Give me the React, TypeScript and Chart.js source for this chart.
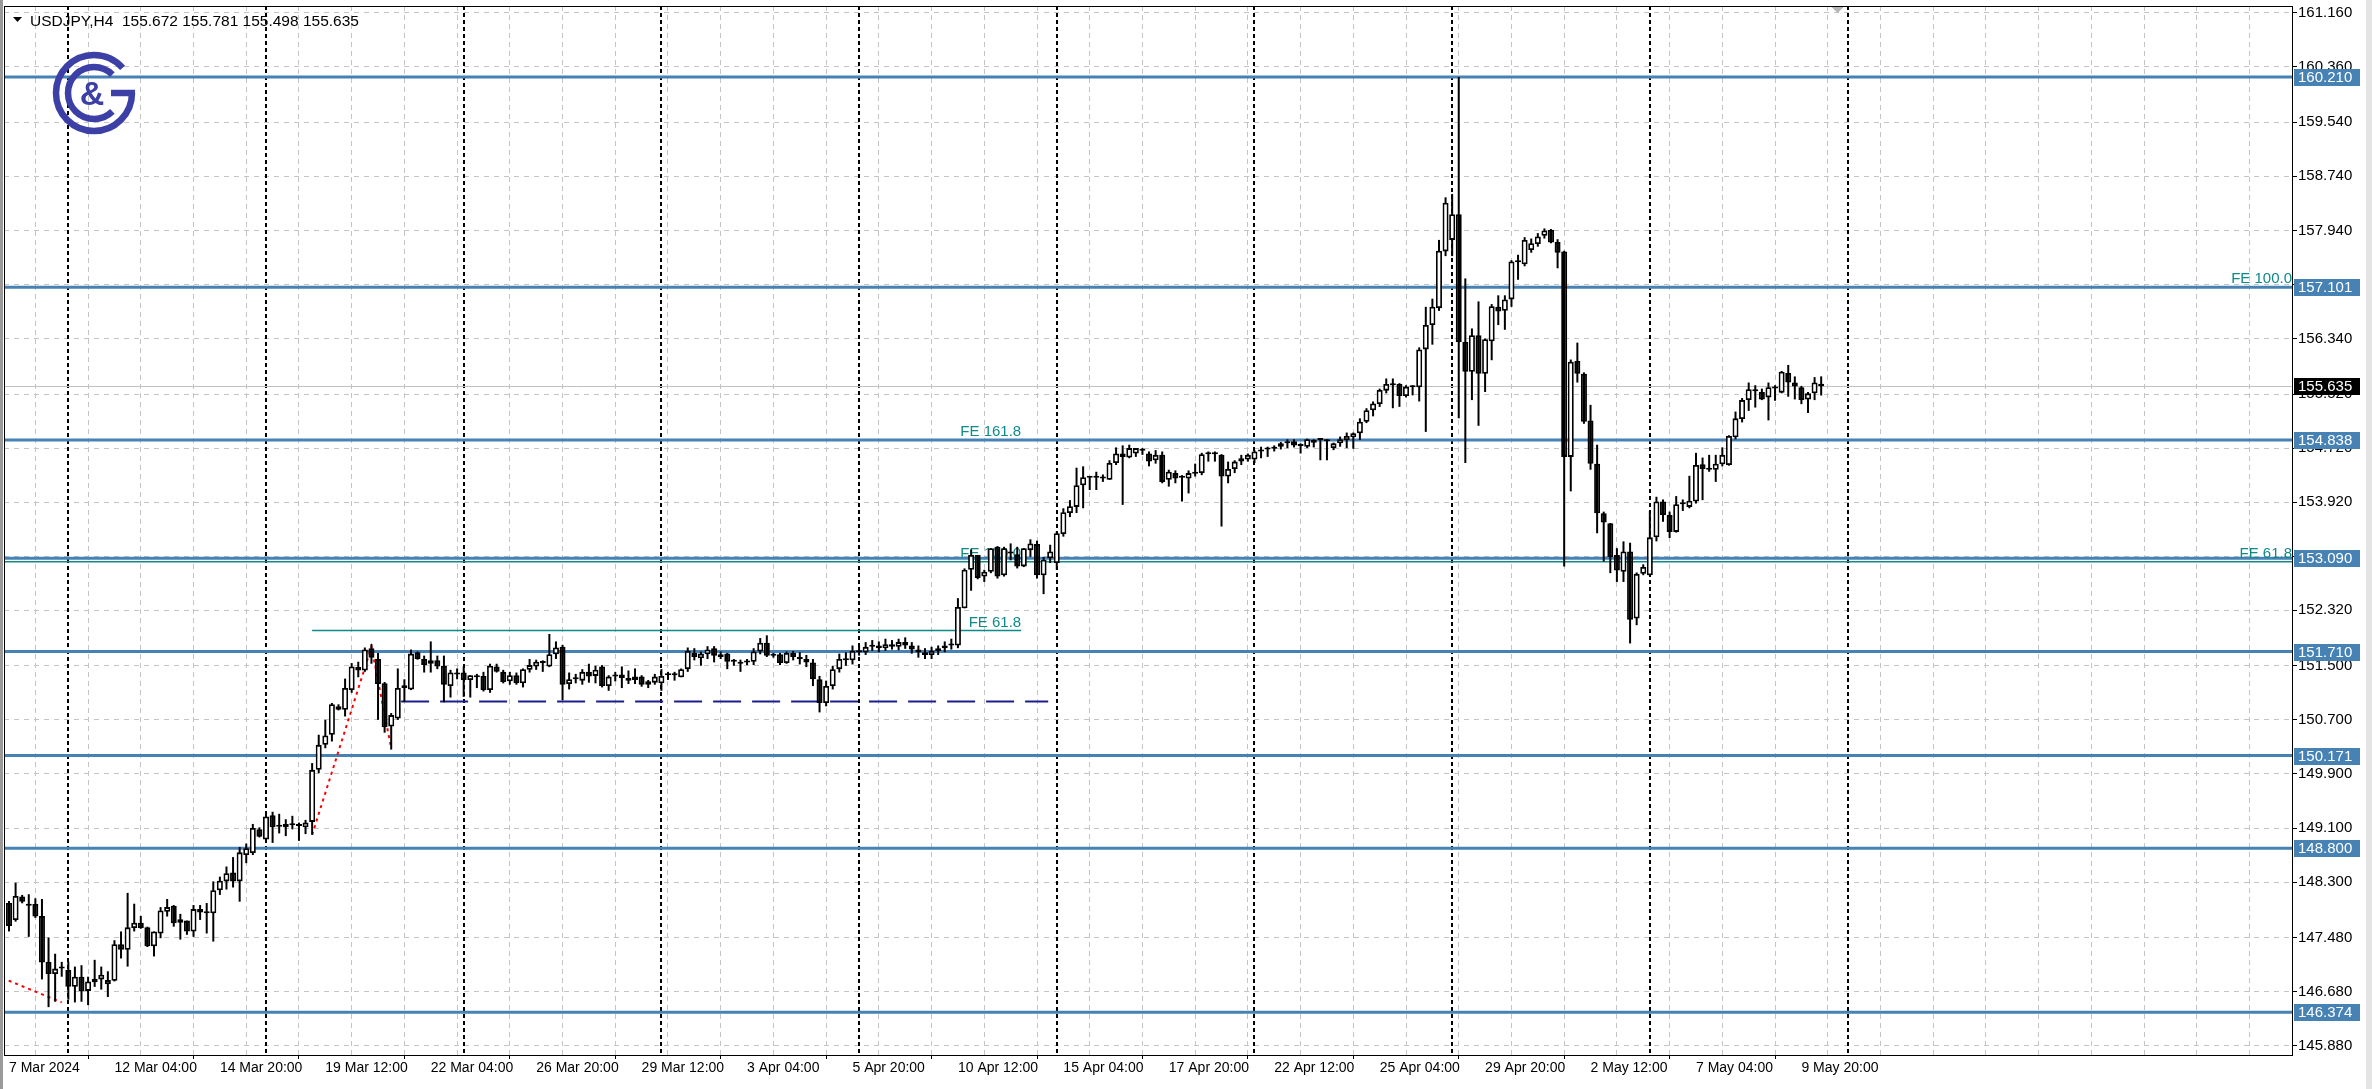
import React, { useEffect, useRef } from "react";
import { Chart, registerables } from "chart.js";

Chart.register(...registerables);

const W = 2372;
const H = 1089;
const FONT = '"Liberation Sans", Arial, sans-serif';

// ---- candle data (USDJPY H4), index 0 = first visible bar ----
const opens = [
  147.99, 147.74, 148.085, 147.97, 147.976, 147.8, 147.12, 146.94, 147.05, 146.998,
  146.75, 146.9, 146.69, 146.82, 146.86, 146.79, 146.84, 147.38, 147.3, 147.62,
  147.7, 147.63, 147.35, 147.54, 147.86, 147.95, 147.7, 147.73, 147.57, 147.9,
  147.85, 147.84, 148.18, 148.31, 148.44, 148.31, 148.7, 148.73, 149.08, 148.93,
  149.29, 149.14, 149.11, 149.15, 149.14, 149.11, 149.19, 149.96, 150.33, 150.48,
  150.9, 150.85, 151.14, 151.43, 151.43, 151.76, 151.6, 151.24, 150.6, 150.72,
  151.17, 151.15, 151.7, 151.6, 151.53, 151.58, 151.5, 151.2, 151.39, 151.4,
  151.29, 151.33, 151.35, 151.14, 151.49, 151.41, 151.27, 151.36, 151.24, 151.44,
  151.49, 151.56, 151.49, 151.67, 151.78, 151.23, 151.3, 151.28, 151.41, 151.35,
  151.49, 151.2, 151.34, 151.37, 151.32, 151.29, 151.34, 151.22, 151.25, 151.24,
  151.36, 151.36, 151.33, 151.45, 151.69, 151.61, 151.67, 151.76, 151.63, 151.68,
  151.57, 151.56, 151.55, 151.56, 151.71, 151.84, 151.66, 151.67, 151.54, 151.69,
  151.63, 151.6, 151.55, 151.3, 150.95, 151.2, 151.45, 151.6, 151.58, 151.72,
  151.7, 151.78, 151.8, 151.76, 151.82, 151.78, 151.85, 151.8, 151.74, 151.7,
  151.66, 151.72, 151.76, 151.8, 151.8, 152.35, 152.92, 153.14, 152.82, 152.89,
  153.26, 152.84, 153.16, 153.15, 152.97, 153.21, 153.3, 152.84, 153.09, 153.02,
  153.45, 153.76, 153.85, 154.17, 154.28, 154.29, 154.27, 154.25, 154.5, 154.64,
  154.58, 154.64, 154.69, 154.64, 154.54, 154.62, 154.25, 154.35, 154.28, 154.27,
  154.34, 154.35, 154.63, 154.63, 154.62, 154.3, 154.41, 154.52, 154.55, 154.55,
  154.67, 154.7, 154.71, 154.74, 154.79, 154.82, 154.78, 154.74, 154.84, 154.84,
  154.84, 154.72, 154.79, 154.84, 154.88, 154.94, 155.11, 155.28, 155.37, 155.57,
  155.66, 155.67, 155.49, 155.62, 155.62, 156.18, 156.54, 156.79, 157.63, 157.8,
  158.18, 156.29, 155.85, 156.39, 155.82, 156.3, 156.81, 156.75, 156.92, 157.47,
  157.44, 157.65, 157.74, 157.86, 157.95, 157.77, 157.63, 154.59, 156.01, 155.82,
  155.13, 154.49, 153.755, 153.61, 153.14, 152.89, 153.19, 152.2, 152.86, 152.84,
  153.4, 153.93, 153.73, 153.48, 153.89, 153.85, 153.93, 154.48, 154.41, 154.4,
  154.48, 154.47, 154.88, 155.15, 155.43, 155.59, 155.55, 155.47, 155.6, 155.54,
  155.83, 155.69, 155.62, 155.44, 155.53, 155.672,
];
const highs = [
  148.02, 148.29, 148.11, 148.12, 148.06, 148.05, 147.48, 147.24, 147.12, 147.12,
  147.05, 147.07, 146.9, 147.15, 147.05, 146.98, 147.44, 147.57, 148.14, 147.98,
  147.8, 147.64, 147.57, 147.93, 148.05, 147.96, 147.83, 147.73, 147.96, 147.96,
  147.99, 148.31, 148.38, 148.53, 148.67, 148.82, 148.87, 149.16, 149.11, 149.34,
  149.34, 149.31, 149.23, 149.28, 149.18, 149.22, 150.06, 150.48, 150.7, 150.95,
  150.93, 151.31, 151.54, 151.56, 151.77, 151.82, 151.69, 151.26, 150.8, 151.46,
  151.3, 151.74, 151.71, 151.65, 151.86, 151.65, 151.65, 151.44, 151.46, 151.49,
  151.36, 151.38, 151.41, 151.53, 151.53, 151.44, 151.41, 151.4, 151.46, 151.6,
  151.59, 151.58, 151.97, 151.86, 151.81, 151.4, 151.38, 151.45, 151.53, 151.5,
  151.51, 151.36, 151.41, 151.49, 151.43, 151.46, 151.36, 151.29, 151.38, 151.45,
  151.41, 151.41, 151.46, 151.77, 151.76, 151.71, 151.79, 151.79, 151.71, 151.69,
  151.6, 151.59, 151.6, 151.76, 151.91, 151.95, 151.69, 151.69, 151.71, 151.72,
  151.7, 151.66, 151.6, 151.35, 151.28, 151.5, 151.68, 151.7, 151.8, 151.8,
  151.85, 151.88, 151.86, 151.9, 151.88, 151.9, 151.92, 151.85, 151.8, 151.76,
  151.78, 151.8, 151.86, 151.9, 152.5, 152.94, 153.22, 153.14, 152.92, 153.24,
  153.27, 153.26, 153.31, 153.26, 153.24, 153.37, 153.35, 153.11, 153.29, 153.49,
  153.83, 153.95, 154.43, 154.45, 154.3, 154.37, 154.33, 154.54, 154.73, 154.76,
  154.77, 154.72, 154.72, 154.67, 154.69, 154.67, 154.4, 154.39, 154.32, 154.39,
  154.49, 154.65, 154.67, 154.67, 154.63, 154.52, 154.54, 154.62, 154.64, 154.69,
  154.74, 154.74, 154.76, 154.81, 154.85, 154.85, 154.79, 154.86, 154.85, 154.85,
  154.85, 154.8, 154.89, 154.95, 154.95, 155.16, 155.31, 155.41, 155.6, 155.75,
  155.75, 155.68, 155.65, 155.65, 156.21, 156.81, 156.93, 157.8, 158.43, 158.48,
  160.21, 157.23, 156.49, 156.89, 156.34, 156.85, 156.98, 156.98, 157.5, 157.58,
  157.84, 157.82, 157.9, 157.97, 157.96, 157.81, 157.64, 156.03, 156.28, 155.84,
  155.36, 154.77, 153.78, 153.61, 153.24, 153.34, 153.32, 152.88, 153.0, 153.79,
  154.0, 153.96, 153.78, 154.01, 153.96, 154.31, 154.65, 154.58, 154.62, 154.62,
  154.73, 154.91, 155.26, 155.46, 155.69, 155.65, 155.6, 155.69, 155.65, 155.86,
  155.95, 155.78, 155.64, 155.55, 155.77, 155.781,
];
const lows = [
  147.57, 147.715, 147.986, 147.49, 147.77, 146.86, 146.45, 146.53, 146.9, 146.56,
  146.52, 146.53, 146.48, 146.75, 146.71, 146.6, 146.83, 147.17, 147.05, 147.57,
  147.61, 147.34, 147.2, 147.47, 147.79, 147.64, 147.45, 147.52, 147.49, 147.74,
  147.54, 147.42, 148.11, 148.19, 148.22, 148.01, 148.58, 148.7, 148.96, 148.9,
  148.88, 149.02, 148.98, 149.08, 148.91, 149.01, 149.0, 149.91, 150.28, 150.38,
  150.84, 150.75, 151.1, 151.33, 151.41, 151.53, 150.7, 150.51, 150.26, 150.7,
  150.97, 151.14, 151.59, 151.4, 151.4, 151.45, 150.96, 151.03, 151.3, 151.04,
  151.03, 151.17, 151.12, 151.1, 151.4, 151.24, 151.22, 151.22, 151.18, 151.4,
  151.44, 151.41, 151.48, 151.6, 150.99, 151.15, 151.24, 151.22, 151.25, 151.24,
  151.18, 151.13, 151.27, 151.17, 151.23, 151.23, 151.19, 151.17, 151.22, 151.13,
  151.29, 151.28, 151.33, 151.41, 151.58, 151.5, 151.6, 151.55, 151.6, 151.45,
  151.5, 151.41, 151.51, 151.51, 151.67, 151.63, 151.62, 151.51, 151.53, 151.58,
  151.52, 151.48, 151.2, 150.81, 150.9, 151.15, 151.4, 151.5, 151.52, 151.65,
  151.66, 151.72, 151.7, 151.72, 151.74, 151.73, 151.75, 151.68, 151.62, 151.6,
  151.6, 151.66, 151.7, 151.74, 151.76, 152.35, 152.61, 152.78, 152.74, 152.87,
  152.79, 152.82, 153.06, 152.94, 152.96, 153.11, 152.79, 152.56, 153.02, 152.92,
  153.41, 153.7, 153.76, 153.83, 154.1, 154.1, 154.22, 154.25, 154.47, 153.88,
  154.57, 154.59, 154.62, 154.45, 154.49, 154.2, 154.15, 154.2, 153.93, 154.05,
  154.3, 154.32, 154.52, 154.52, 153.56, 154.2, 154.35, 154.47, 154.52, 154.5,
  154.57, 154.59, 154.67, 154.7, 154.72, 154.73, 154.64, 154.72, 154.73, 154.54,
  154.54, 154.69, 154.74, 154.72, 154.71, 154.84, 155.09, 155.19, 155.33, 155.53,
  155.31, 155.33, 155.47, 155.5, 155.41, 154.96, 156.25, 156.75, 157.56, 157.56,
  155.16, 154.5, 155.43, 155.05, 155.55, 156.02, 156.54, 156.47, 156.81, 157.21,
  157.41, 157.61, 157.7, 157.82, 157.75, 157.38, 152.97, 154.08, 155.69, 155.08,
  154.4, 153.46, 153.04, 152.87, 152.74, 152.74, 151.83, 152.1, 152.84, 152.83,
  153.34, 153.63, 153.39, 153.47, 153.79, 153.83, 153.9, 153.95, 154.37, 154.22,
  154.45, 154.46, 154.85, 155.1, 155.27, 155.32, 155.43, 155.13, 155.42, 155.53,
  155.48, 155.44, 155.37, 155.24, 155.43, 155.498,
];
const closes = [
  147.65, 148.095, 148.01, 147.95, 147.79, 147.11, 146.94, 147.02, 147.02, 146.75,
  146.9, 146.68, 146.83, 146.87, 146.93, 146.85, 147.38, 147.3, 147.63, 147.7,
  147.62, 147.35, 147.57, 147.88, 147.93, 147.69, 147.75, 147.57, 147.9, 147.85,
  147.84, 148.18, 148.32, 148.43, 148.31, 148.74, 148.8, 149.1, 148.97, 149.27,
  149.11, 149.12, 149.16, 149.14, 149.13, 149.18, 149.96, 150.33, 150.47, 150.93,
  150.85, 151.17, 151.49, 151.48, 151.74, 151.62, 151.23, 150.59, 150.77, 151.17,
  151.21, 151.68, 151.6, 151.51, 151.58, 151.49, 151.22, 151.4, 151.37, 151.29,
  151.36, 151.35, 151.14, 151.5, 151.41, 151.26, 151.36, 151.24, 151.45, 151.51,
  151.56, 151.54, 151.67, 151.77, 151.22, 151.3, 151.32, 151.41, 151.34, 151.44,
  151.2, 151.34, 151.35, 151.32, 151.28, 151.34, 151.22, 151.27, 151.34, 151.35,
  151.37, 151.37, 151.45, 151.72, 151.63, 151.68, 151.74, 151.65, 151.67, 151.56,
  151.56, 151.53, 151.56, 151.71, 151.84, 151.65, 151.65, 151.54, 151.69, 151.63,
  151.6, 151.55, 151.3, 150.95, 151.2, 151.45, 151.6, 151.58, 151.72, 151.7,
  151.78, 151.8, 151.76, 151.82, 151.78, 151.85, 151.8, 151.74, 151.7, 151.66,
  151.72, 151.76, 151.8, 151.82, 152.37, 152.92, 153.14, 152.8, 152.89, 153.24,
  152.82, 153.24, 153.17, 152.97, 153.24, 153.31, 152.84, 153.07, 153.19, 153.46,
  153.77, 153.86, 154.17, 154.29, 154.29, 154.28, 154.29, 154.5, 154.64, 154.59,
  154.72, 154.72, 154.68, 154.52, 154.62, 154.22, 154.37, 154.27, 154.3, 154.35,
  154.35, 154.63, 154.63, 154.64, 154.3, 154.41, 154.52, 154.57, 154.62, 154.67,
  154.7, 154.71, 154.73, 154.79, 154.82, 154.76, 154.75, 154.85, 154.8, 154.85,
  154.82, 154.79, 154.85, 154.9, 154.94, 155.11, 155.28, 155.38, 155.58, 155.67,
  155.65, 155.49, 155.63, 155.62, 156.18, 156.54, 156.81, 157.64, 158.35, 158.18,
  156.29, 155.85, 156.39, 155.82, 156.33, 156.82, 156.74, 156.92, 157.48, 157.48,
  157.8, 157.75, 157.85, 157.94, 157.76, 157.61, 154.59, 155.999, 155.82, 155.11,
  154.49, 153.755, 153.62, 153.11, 152.91, 153.19, 152.18, 152.86, 152.96, 153.4,
  153.93, 153.73, 153.48, 153.89, 153.9, 153.94, 154.47, 154.41, 154.4, 154.49,
  154.62, 154.9, 155.16, 155.43, 155.59, 155.56, 155.44, 155.62, 155.61, 155.85,
  155.69, 155.63, 155.43, 155.53, 155.69, 155.635,
];

// ---- axes ----
const xLabelIndex = [0, 16, 32, 48, 64, 80, 96, 112, 128, 144, 160, 176, 192, 208, 224, 240, 256, 272];
const xLabelText = [
  "7 Mar 2024", "12 Mar 04:00", "14 Mar 20:00", "19 Mar 12:00", "22 Mar 04:00", "26 Mar 20:00",
  "29 Mar 12:00", "3 Apr 04:00", "5 Apr 20:00", "10 Apr 12:00", "15 Apr 04:00", "17 Apr 20:00",
  "22 Apr 12:00", "25 Apr 04:00", "29 Apr 20:00", "2 May 12:00", "7 May 04:00", "9 May 20:00",
];
const xGridIndex = [
  0, 8, 16, 24, 32, 40, 48, 56, 64, 72, 80, 88, 96, 104, 112, 120, 128, 136, 144, 152, 160, 168,
  176, 184, 192, 200, 208, 216, 224, 232, 240, 248, 256, 264, 272, 280, 288, 296, 304, 312, 320,
  328, 336, 344,
];
const weekSeparatorIndex = [9, 39, 69, 99, 129, 159, 189, 219, 249, 279];
const yTickValues = [
  161.16, 160.36, 159.54, 158.74, 157.94, 157.14, 156.34, 155.52, 154.72, 153.92,
  153.12, 152.32, 151.5, 150.7, 149.9, 149.1, 148.3, 147.48, 146.68, 145.88,
];
const X_MIN = -0.76;
const X_MAX = 346.6;
const Y_MIN = 145.742;
const Y_MAX = 161.26;
const shiftMarkerIndex = 277.5;

// ---- drawn objects ----
const levelPrices = [160.21, 157.101, 154.838, 153.09, 151.71, 150.171, 148.8, 146.374];
const levelLabels = ["160.210", "157.101", "154.838", "153.090", "151.710", "150.171", "148.800", "146.374"];
const lastPrice = 155.635;
const lastPriceLabel = "155.635";
const headerText = "USDJPY,H4  155.672 155.781 155.498 155.635";
const feShortLine = { from: 46, to: 153.6, price: 152.02 };
const feLongLinePrice = 153.04;
const feTextA = ["FE 61.8", "FE 100.0", "FE 161.8"];
const feTextAPrice = [152.02, 153.04, 154.838];
const feTextAEnd = 153.6;
const feTextB = ["FE 61.8", "FE 100.0"];
const feTextBPrice = [153.04, 157.101];
const navyDash = { from: 59.5, to: 157.7, price: 150.97 };
const redPathA_x = [-3, 8];
const redPathA_y = [146.96, 146.52];
const redPathB_x = [46, 55, 58];
const redPathB_y = [149.0, 151.78, 150.28];

const BLUE = "#4682B4";
const TEAL = "#0E8A8A";

function drawLogo(ctx: CanvasRenderingContext2D) {
  const cx = 94;
  const cy = 93;
  ctx.save();
  ctx.strokeStyle = "#3b3fa6";
  ctx.fillStyle = "#3b3fa6";
  ctx.lineWidth = 6.5;
  ctx.lineCap = "butt";
  ctx.beginPath();
  ctx.arc(cx, cy, 38, 0, Math.PI * 2 - 0.72, false);
  ctx.stroke();
  ctx.beginPath();
  ctx.moveTo(cx + 41, cy);
  ctx.lineTo(cx + 17, cy);
  ctx.stroke();
  ctx.beginPath();
  ctx.arc(cx, cy, 26, Math.PI / 4, Math.PI * 2 - Math.PI / 4, false);
  ctx.stroke();
  ctx.font = `bold 34px ${FONT}`;
  ctx.textAlign = "center";
  ctx.textBaseline = "middle";
  ctx.fillText("&", cx - 2, cy + 3);
  ctx.restore();
}

const decoPlugin = {
  id: "deco",
  beforeDraw(chart: any) {
    const { ctx } = chart;
    ctx.save();
    ctx.fillStyle = "#ffffff";
    ctx.fillRect(0, 0, W, H);
    ctx.fillStyle = "#9a9a9a";
    ctx.fillRect(0, 0, 3, H);
    ctx.fillStyle = "#e4e4e4";
    ctx.fillRect(2366, 0, W - 2366, H);
    ctx.restore();
  },
  beforeDatasetsDraw(chart: any) {
    const { ctx, chartArea: a, scales } = chart;
    const xs = scales.x;
    const ys = scales.y;
    ctx.save();
    ctx.beginPath();
    ctx.rect(a.left, a.top, a.right - a.left, a.bottom - a.top);
    ctx.clip();

    // weekly period separators
    ctx.strokeStyle = "#000";
    ctx.lineWidth = 2;
    ctx.setLineDash([4, 3]);
    for (const i of weekSeparatorIndex) {
      const px = Math.round(xs.getPixelForValue(i));
      ctx.beginPath();
      ctx.moveTo(px, a.top);
      ctx.lineTo(px, a.bottom);
      ctx.stroke();
    }
    ctx.setLineDash([]);

    // bid line
    ctx.strokeStyle = "#c0c0c0";
    ctx.lineWidth = 1;
    const by = Math.round(ys.getPixelForValue(lastPrice)) + 0.5;
    ctx.beginPath();
    ctx.moveTo(a.left, by);
    ctx.lineTo(a.right, by);
    ctx.stroke();

    // teal FE lines
    ctx.strokeStyle = TEAL;
    ctx.lineWidth = 1.5;
    let py = ys.getPixelForValue(feLongLinePrice);
    ctx.beginPath();
    ctx.moveTo(a.left, py);
    ctx.lineTo(a.right, py);
    ctx.stroke();
    py = ys.getPixelForValue(feShortLine.price);
    ctx.beginPath();
    ctx.moveTo(xs.getPixelForValue(feShortLine.from), py);
    ctx.lineTo(xs.getPixelForValue(feShortLine.to), py);
    ctx.stroke();

    // blue horizontal levels
    ctx.strokeStyle = BLUE;
    ctx.lineWidth = 3;
    for (const p of levelPrices) {
      const y = ys.getPixelForValue(p);
      ctx.beginPath();
      ctx.moveTo(a.left, y);
      ctx.lineTo(a.right, y);
      ctx.stroke();
    }

    // FE texts
    ctx.fillStyle = TEAL;
    ctx.font = `15px ${FONT}`;
    ctx.textAlign = "right";
    ctx.textBaseline = "alphabetic";
    const endA = xs.getPixelForValue(feTextAEnd);
    feTextA.forEach((t, k) => {
      ctx.fillText(t, endA, ys.getPixelForValue(feTextAPrice[k]) - 4);
    });
    feTextB.forEach((t, k) => {
      ctx.fillText(t, a.right - 1, ys.getPixelForValue(feTextBPrice[k]) - 4);
    });

    // navy dashed line
    ctx.strokeStyle = "#1c1c8f";
    ctx.lineWidth = 2;
    ctx.setLineDash([28, 11]);
    py = ys.getPixelForValue(navyDash.price);
    ctx.beginPath();
    ctx.moveTo(xs.getPixelForValue(navyDash.from), py);
    ctx.lineTo(xs.getPixelForValue(navyDash.to), py);
    ctx.stroke();

    // red dotted trend lines
    ctx.strokeStyle = "#ff0000";
    ctx.lineWidth = 2;
    ctx.setLineDash([3, 4]);
    const drawPath = (xsArr: number[], ysArr: number[]) => {
      ctx.beginPath();
      xsArr.forEach((v, k) => {
        const X = xs.getPixelForValue(v);
        const Y = ys.getPixelForValue(ysArr[k]);
        if (k === 0) ctx.moveTo(X, Y);
        else ctx.lineTo(X, Y);
      });
      ctx.stroke();
    };
    drawPath(redPathA_x, redPathA_y);
    drawPath(redPathB_x, redPathB_y);
    ctx.restore();
  },
  afterDraw(chart: any) {
    const { ctx, chartArea: a, scales } = chart;
    const ys = scales.y;
    const xs = scales.x;
    ctx.save();
    // plot border
    ctx.strokeStyle = "#000";
    ctx.lineWidth = 1;
    ctx.strokeRect(Math.round(a.left) + 0.5, Math.round(a.top) + 0.5, Math.round(a.right - a.left) - 1, Math.round(a.bottom - a.top));

    // chart shift marker
    const sx = xs.getPixelForValue(shiftMarkerIndex);
    ctx.fillStyle = "#b4b4b4";
    ctx.beginPath();
    ctx.moveTo(sx - 6, a.top + 1);
    ctx.lineTo(sx + 6, a.top + 1);
    ctx.lineTo(sx, a.top + 7);
    ctx.closePath();
    ctx.fill();

    // price boxes
    ctx.font = `15px ${FONT}`;
    ctx.textAlign = "left";
    ctx.textBaseline = "middle";
    const box = (p: number, txt: string, bg: string) => {
      const y = Math.round(ys.getPixelForValue(p));
      ctx.fillStyle = bg;
      ctx.fillRect(a.right + 1, y - 8, 66, 17);
      ctx.fillStyle = "#fff";
      ctx.fillText(txt, a.right + 5, y + 1);
    };
    levelPrices.forEach((p, k) => box(p, levelLabels[k], BLUE));
    box(lastPrice, lastPriceLabel, "#000");

    // header
    ctx.fillStyle = "#000";
    ctx.beginPath();
    ctx.moveTo(13, 17);
    ctx.lineTo(22, 17);
    ctx.lineTo(17.5, 22);
    ctx.closePath();
    ctx.fill();
    ctx.font = `15.5px ${FONT}`;
    ctx.textBaseline = "alphabetic";
    ctx.fillText(headerText, 30, 26);

    drawLogo(ctx);
    ctx.restore();
  },
};

export default function App() {
  const ref = useRef<HTMLCanvasElement | null>(null);
  useEffect(() => {
    document.body.style.margin = "0";
    const canvas = ref.current;
    if (!canvas) return;
    const idx = opens.map((_, i) => i);
    const wickData = idx.map((i) => ({ x: i, y: [lows[i], highs[i]] }));
    const bodyData = idx.map((i) => ({ x: i, y: [opens[i], closes[i]] }));
    const bodyBg = idx.map((i) => (closes[i] >= opens[i] ? "#ffffff" : "#000000"));
    const labelMap = new Map<number, string>();
    xLabelIndex.forEach((v, k) => labelMap.set(v, xLabelText[k]));

    const chart = new Chart(canvas, {
      type: "bar",
      data: {
        datasets: [
          {
            data: wickData as any,
            backgroundColor: "#000",
            borderWidth: 0,
            barThickness: 2,
            grouped: false,
            inflateAmount: 0,
            order: 2,
          } as any,
          {
            data: bodyData as any,
            backgroundColor: bodyBg,
            borderColor: "#000",
            borderWidth: 1.8,
            borderSkipped: false,
            barThickness: 6,
            minBarLength: 2,
            grouped: false,
            inflateAmount: 0,
            order: 1,
          } as any,
        ],
      },
      options: {
        animation: false,
        responsive: false,
        devicePixelRatio: 1,
        events: [],
        layout: { padding: { left: 4, top: 6, right: 0, bottom: 0 } },
        plugins: { legend: { display: false }, tooltip: { enabled: false } },
        scales: {
          x: {
            type: "linear",
            position: "bottom",
            min: X_MIN,
            max: X_MAX,
            offset: false,
            afterBuildTicks: (s: any) => {
              s.ticks = xGridIndex.map((v) => ({ value: v }));
            },
            afterFit: (s: any) => {
              s.height = 34;
              s.paddingLeft = 0;
              s.paddingRight = 0;
            },
            ticks: {
              autoSkip: false,
              maxRotation: 0,
              minRotation: 0,
              align: "start",
              padding: 1,
              color: "#000",
              font: { family: FONT, size: 14 },
              callback: (v: any) => labelMap.get(Number(v)) ?? "",
            },
            grid: {
              color: "#c4c4c4",
              lineWidth: 1,
              drawTicks: true,
              tickLength: 4,
              tickWidth: 1,
              tickBorderDash: [],
              tickColor: (c: any) => (c.tick && labelMap.has(c.tick.value) ? "#000" : "rgba(0,0,0,0)"),
            },
            border: { display: false, dash: [5, 4] },
          } as any,
          y: {
            type: "linear",
            position: "right",
            min: Y_MIN,
            max: Y_MAX,
            afterBuildTicks: (s: any) => {
              s.ticks = yTickValues.map((v) => ({ value: v }));
            },
            afterFit: (s: any) => {
              s.width = 79;
              s.paddingTop = 0;
              s.paddingBottom = 0;
            },
            ticks: {
              autoSkip: false,
              padding: 1,
              color: "#000",
              font: { family: FONT, size: 15 },
              callback: (v: any) => Number(v).toFixed(3),
            },
            grid: {
              color: "#c4c4c4",
              lineWidth: 1,
              drawTicks: true,
              tickLength: 4,
              tickWidth: 1,
              tickBorderDash: [],
              tickColor: "#000",
            },
            border: { display: false, dash: [5, 5] },
          } as any,
        },
      },
      plugins: [decoPlugin as any],
    });
    return () => chart.destroy();
  }, []);

  return (
    <div style={{ width: W, height: H, position: "relative" }}>
      <canvas ref={ref} width={W} height={H} style={{ display: "block", width: W, height: H }} />
    </div>
  );
}
